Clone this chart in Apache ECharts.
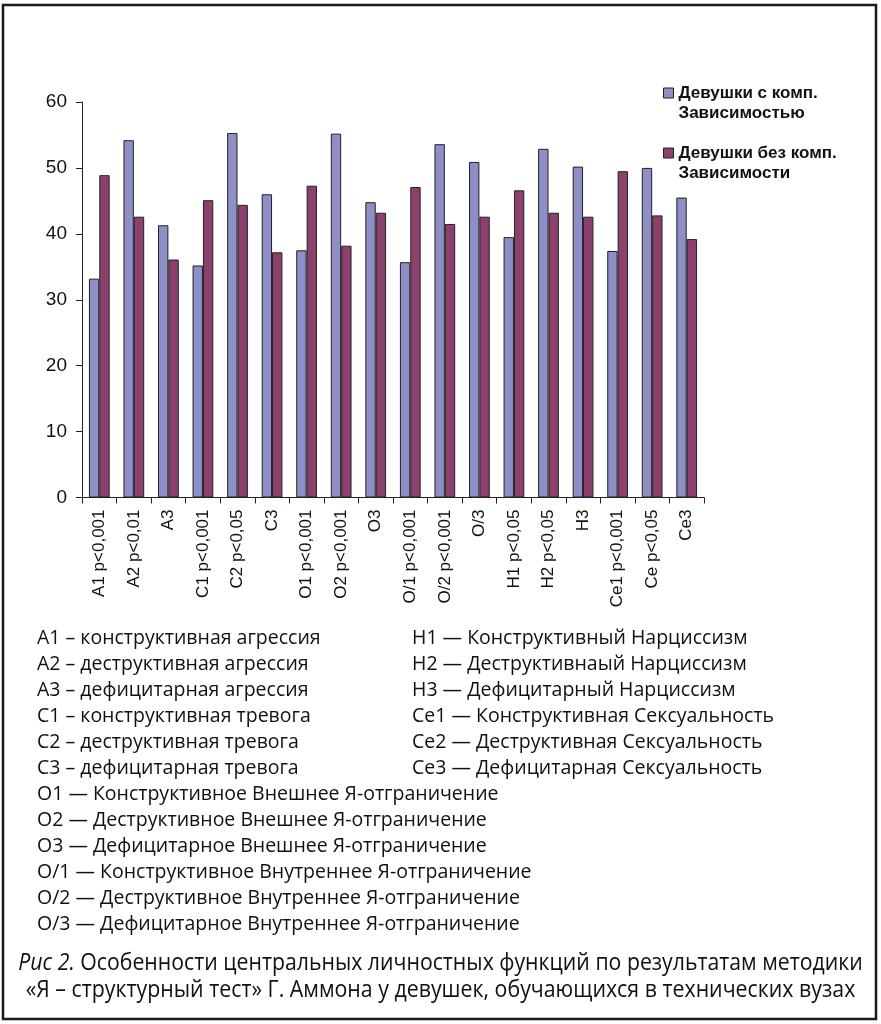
<!DOCTYPE html>
<html>
<head>
<meta charset="utf-8">
<script src="https://cdn.jsdelivr.net/npm/echarts@6/dist/echarts.min.js"></script>
<style>
html,body{margin:0;padding:0;background:#fff;}
#chart{width:881px;height:1024px;}
</style>
</head>
<body>
<div id="chart"></div>
<script>
const categories = ['A1 p<0,001','A2 p<0,01','A3','C1 p<0,001','C2 p<0,05','C3','O1 p<0,001','O2 p<0,001','O3','O/1 p<0,001','O/2 p<0,001','O/3','H1 p<0,05','H2 p<0,05','H3','Ce1 p<0,001','Ce p<0,05','Ce3'];
const withDependence = [33.2,54.2,41.3,35.2,55.3,46.0,37.5,55.2,44.8,35.7,53.6,50.9,39.5,52.9,50.2,37.4,50.0,45.5];
const withoutDependence = [48.9,42.6,36.1,45.1,44.4,37.2,47.3,38.2,43.2,47.1,41.5,42.6,46.6,43.2,42.6,49.5,42.8,39.2];
const seriesNames = ['Девушки с комп.\nЗависимостью','Девушки без комп.\nЗависимости'];
const yTicks = [0,10,20,30,40,50,60];
const notesLeft = [
  'А1 – конструктивная агрессия',
  'А2 – деструктивная агрессия',
  'А3 – дефицитарная агрессия',
  'С1 – конструктивная тревога',
  'С2 – деструктивная тревога',
  'С3 – дефицитарная тревога',
  'О1 — Конструктивное Внешнее Я-отграничение',
  'О2 — Деструктивное Внешнее Я-отграничение',
  'О3 — Дефицитарное Внешнее Я-отграничение',
  'О/1 — Конструктивное Внутреннее Я-отграничение',
  'О/2 — Деструктивное Внутреннее Я-отграничение',
  'О/3 — Дефицитарное Внутреннее Я-отграничение'
];
const notesRight = [
  'Н1 — Конструктивный Нарциссизм',
  'Н2 — Деструктивнаый Нарциссизм',
  'Н3 — Дефицитарный Нарциссизм',
  'Се1 — Конструктивная Сексуальность',
  'Се2 — Деструктивная Сексуальность',
  'Се3 — Дефицитарная Сексуальность'
];
const captionLine1 = 'Особенности центральных личностных функций по результатам методики';
const captionPrefix = 'Рис 2.';
const captionLine2 = '«Я – структурный тест» Г. Аммона у девушек, обучающихся в технических вузах';

const chart = echarts.init(document.getElementById('chart'), null, {renderer:'canvas'});
const noteFont = '19.5px "Open Sans"';
const graphics = [
  {type:'rect', shape:{x:3,y:5,width:873,height:1014}, style:{fill:'none', stroke:'#1a1a1a', lineWidth:2.5}, silent:true}
];
notesLeft.forEach((t,i)=>{
  graphics.push({type:'text', x:37, y:638 + 26*i, style:{text:t, font:noteFont, fill:'#111', verticalAlign:'middle'}});
});
notesRight.forEach((t,i)=>{
  graphics.push({type:'text', x:412, y:638 + 26*i, style:{text:t, font:noteFont, fill:'#111', verticalAlign:'middle'}});
});
graphics.push({type:'text', x:440.5, y:963, scaleX:0.924, style:{
  text:'{i|'+captionPrefix+'} '+captionLine1, font:'23px "Open Sans"', fill:'#111', align:'center', verticalAlign:'middle',
  rich:{i:{font:'italic 23px "Open Sans"', fill:'#111'}}
}});
graphics.push({type:'text', x:440.5, y:990, scaleX:0.927, style:{
  text:captionLine2, font:'23px "Open Sans"', fill:'#111', align:'center', verticalAlign:'middle'
}});

chart.setOption({
  animation:false,
  backgroundColor:'#fff',
  grid:{left:82, right:177, top:102, bottom:526.5, containLabel:false},
  legend:{
    orient:'vertical', left:663, top:63, padding:0, itemGap:0,
    itemWidth:10, itemHeight:10, icon:'rect',
    formatter:function(name){ return '\n' + name; },
    textStyle:{fontFamily:'"Liberation Sans", Arial', fontWeight:'bold', fontSize:17, color:'#111', lineHeight:20},
    itemStyle:{borderColor:'#222', borderWidth:1}
  },
  xAxis:{
    type:'category', data:categories,
    axisLine:{lineStyle:{color:'#222', width:1}},
    axisTick:{show:true, length:6, lineStyle:{color:'#222'}},
    axisLabel:{rotate:90, margin:12, fontFamily:'"Liberation Sans", Arial', fontSize:17, color:'#111', interval:0}
  },
  yAxis:{
    type:'value', min:yTicks[0], max:yTicks[yTicks.length-1], interval:10,
    splitLine:{show:false},
    axisLine:{show:true, lineStyle:{color:'#222', width:1}},
    axisTick:{show:true, length:6, lineStyle:{color:'#222'}},
    axisLabel:{margin:15, fontFamily:'"Liberation Sans", Arial', fontSize:19, color:'#111'}
  },
  series:[
    {name:seriesNames[0], type:'bar', data:withDependence, barGap:'0%', barCategoryGap:'40%',
     itemStyle:{color:'#8E8FC6', borderColor:'#222', borderWidth:1}},
    {name:seriesNames[1], type:'bar', data:withoutDependence, barGap:'0%', barCategoryGap:'40%',
     itemStyle:{color:'#8B406E', borderColor:'#222', borderWidth:1}}
  ],
  graphic:graphics
});
</script>
</body>
</html>
